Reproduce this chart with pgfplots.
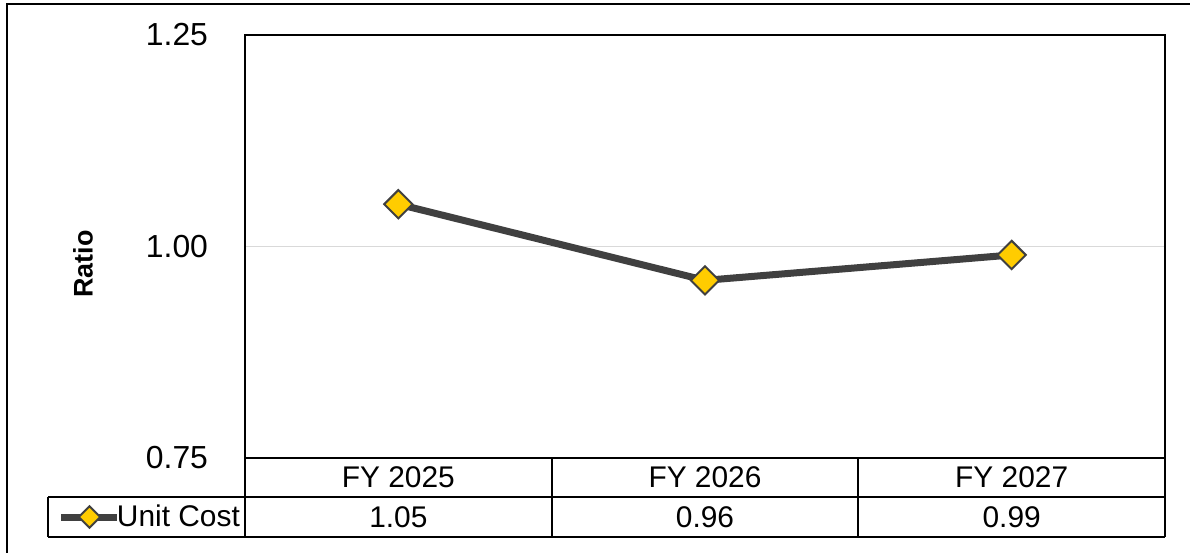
\documentclass[border=0pt]{standalone}
\usepackage{pgfplots}
\pgfplotsset{compat=1.18}
\usepackage{fontspec}
\setmainfont{Liberation Sans}
\definecolor{linegray}{HTML}{404040}
\definecolor{markyellow}{HTML}{FFCC00}
\definecolor{gridgray}{HTML}{D9D9D9}
\begin{document}
\begin{tikzpicture}[x=1bp,y=1bp]
\path[use as bounding box] (0,0) rectangle (595,276);
% outer frame
\draw[line width=0.9bp] (3.5,-2) -- (3.5,273.8) -- (597,273.8);
\begin{axis}[
  at={(122.5bp,47bp)}, anchor=south west,
  scale only axis, width=460bp, height=211.5bp,
  xmin=-0.5, xmax=2.5, ymin=0.75, ymax=1.25,
  xtick={0,1,2}, xticklabels={FY 2025,FY 2026,FY 2027},
  xticklabel style={anchor=center, yshift=-9.75bp, font=\fontsize{15}{18}\selectfont},
  ytick={0.75,1,1.25}, yticklabels={0.75,1.00,1.25},
  yticklabel style={anchor=east, xshift=-15bp, font=\fontsize{16}{18}\selectfont},
  major tick length=0pt,
  ymajorgrids, grid style={gridgray, line width=0.6bp},
  axis line style={line width=0.9bp},
  /pgf/number format/assume math mode=true,
  clip=false,
  legend style={at={(axis description cs:-0.2033,-0.1395)}, anchor=west, draw=none, fill=none,
    inner sep=0pt, outer sep=0pt, font=\fontsize{15}{18}\selectfont,
    legend cell align=left},
  legend image code/.code={\draw[mark repeat=2,mark phase=2,#1,mark size=3.8bp] plot coordinates {(0bp,0bp) (14bp,0bp) (28bp,0bp)};},
]
\addplot[linegray, line width=3.5bp, mark=square*, mark size=5bp,
  mark options={rotate=45, fill=markyellow, draw=linegray, line width=1bp, solid}]
  coordinates {(0,1.05) (1,0.96) (2,0.99)};
\addlegendentry{\hspace{-4bp}Unit Cost}
\end{axis}
% data table grid
\draw[line width=0.9bp] (122.5,47) -- (122.5,7.5);
\draw[line width=0.9bp] (24,27.5) -- (582.5,27.5);
\draw[line width=0.9bp] (24,7.5) -- (582.5,7.5);
\draw[line width=0.9bp] (24,27.5) -- (24,7.5);
\draw[line width=0.9bp] (582.5,47) -- (582.5,7.5);
\draw[line width=0.9bp] (275.83,47) -- (275.83,7.5);
\draw[line width=0.9bp] (429.17,47) -- (429.17,7.5);
\node[font=\fontsize{15}{18}\selectfont] at (199.17,17.5) {1.05};
\node[font=\fontsize{15}{18}\selectfont] at (352.5,17.5) {0.96};
\node[font=\fontsize{15}{18}\selectfont] at (505.83,17.5) {0.99};
% y label
\node[rotate=90, font=\bfseries\fontsize{13.5}{16}\selectfont] at (41.5,144) {Ratio};
\end{tikzpicture}
\end{document}
